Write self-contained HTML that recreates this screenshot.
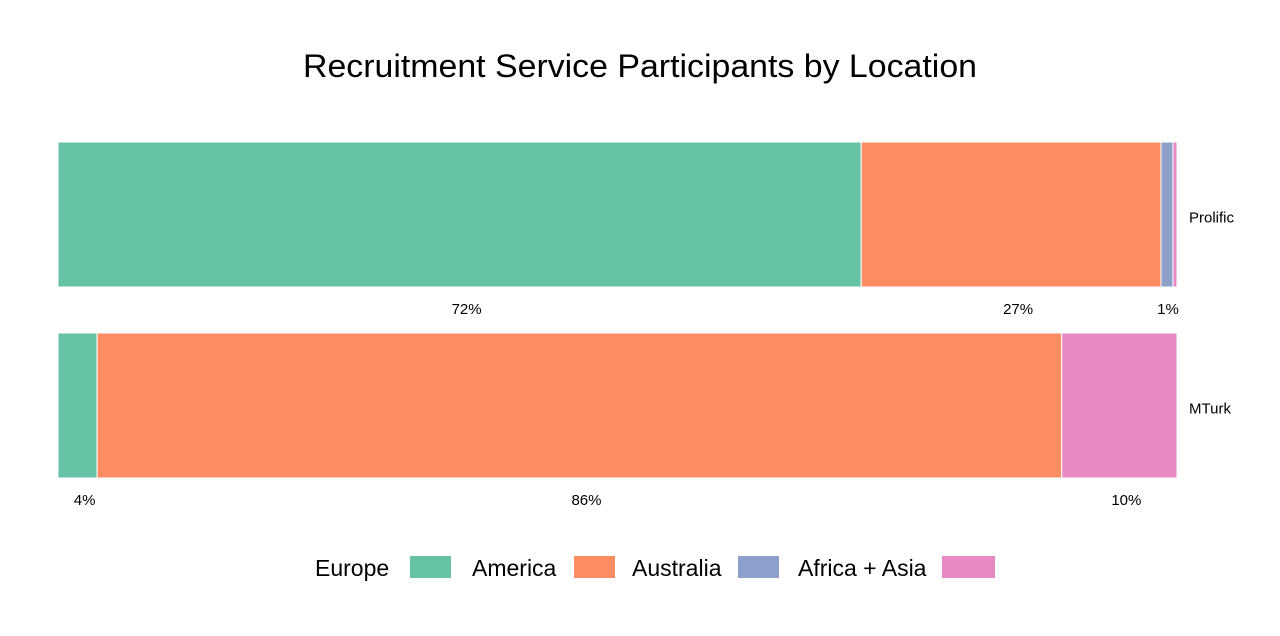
<!DOCTYPE html>
<html><head><meta charset="utf-8"><style>
body{margin:0;background:#fff;width:1280px;height:631px;overflow:hidden}
svg text{font-family:"Liberation Sans",sans-serif}
</style></head><body>
<svg id="chart" width="1280" height="631">
<text x="640" y="77" text-anchor="middle" font-size="32" textLength="674" lengthAdjust="spacingAndGlyphs" fill="#000">Recruitment Service Participants by Location</text>
<g id="bars"></g>
<g id="legend"></g>
</svg>
<script>
const services = ["Prolific", "MTurk"];
const regions = ["Europe", "America", "Australia", "Africa + Asia"];
const europe = [71.8, 3.5];
const america = [26.8, 86.2];
const australia = [1.07, 0];
const africaAsia = [0.36, 10.3];
const pctLabels = [["72%", "27%", "1%", ""], ["4%", "86%", "", "10%"]];
const colors = ["#66c2a5", "#fc8d62", "#8da0cb", "#e78ac3"];
const series = [europe, america, australia, africaAsia];
const ns = "http://www.w3.org/2000/svg";
const x0 = 58, x1 = 1177;
const xs = v => x0 + (x1 - x0) * v / 100;
const rowTop = [142, 333], barH = 145;
const g = document.getElementById("bars");
services.forEach((s, i) => {
  const total = series.reduce((a, ser) => a + ser[i], 0);
  let acc = 0;
  series.forEach((ser, j) => {
    const v = ser[i] / total * 100;
    if (v <= 0) return;
    const r = document.createElementNS(ns, "rect");
    r.setAttribute("x", xs(acc)); r.setAttribute("y", rowTop[i]);
    r.setAttribute("width", xs(acc + v) - xs(acc)); r.setAttribute("height", barH);
    r.setAttribute("fill", colors[j]); r.setAttribute("stroke", "#fff"); r.setAttribute("stroke-width", "1");
    
    
    g.appendChild(r);
    if (pctLabels[i][j]) {
      const t = document.createElementNS(ns, "text");
      const mid = (xs(acc) + xs(acc + v)) / 2;
      t.setAttribute("x", Math.min(mid + 7, 1168));
      t.setAttribute("y", rowTop[i] + barH + 27);
      t.setAttribute("text-anchor", "middle"); t.setAttribute("font-size", "15");
      t.textContent = pctLabels[i][j];
      
      
      g.appendChild(t);
    }
    acc += v;
  });
  const lab = document.createElementNS(ns, "text");
  lab.setAttribute("x", 1189); lab.setAttribute("y", rowTop[i] + barH / 2 + 8);
  lab.setAttribute("font-size", "15");
  lab.textContent = s;
  
  
  g.appendChild(lab);
});
const lg = document.getElementById("legend");
const textX = [315, 472, 632, 798], swX = [410, 574, 738, 942];
regions.forEach((r, j) => {
  const t = document.createElementNS(ns, "text");
  t.setAttribute("x", textX[j]); t.setAttribute("y", 576); t.setAttribute("font-size", "23");
  t.textContent = r;
  
  
  lg.appendChild(t);
  const s = document.createElementNS(ns, "rect");
  s.setAttribute("x", swX[j]); s.setAttribute("y", 556); s.setAttribute("width", j == 3 ? 53 : 41); s.setAttribute("height", 22);
  s.setAttribute("fill", colors[j]);
  
  
  lg.appendChild(s);
});
</script>
</body></html>
